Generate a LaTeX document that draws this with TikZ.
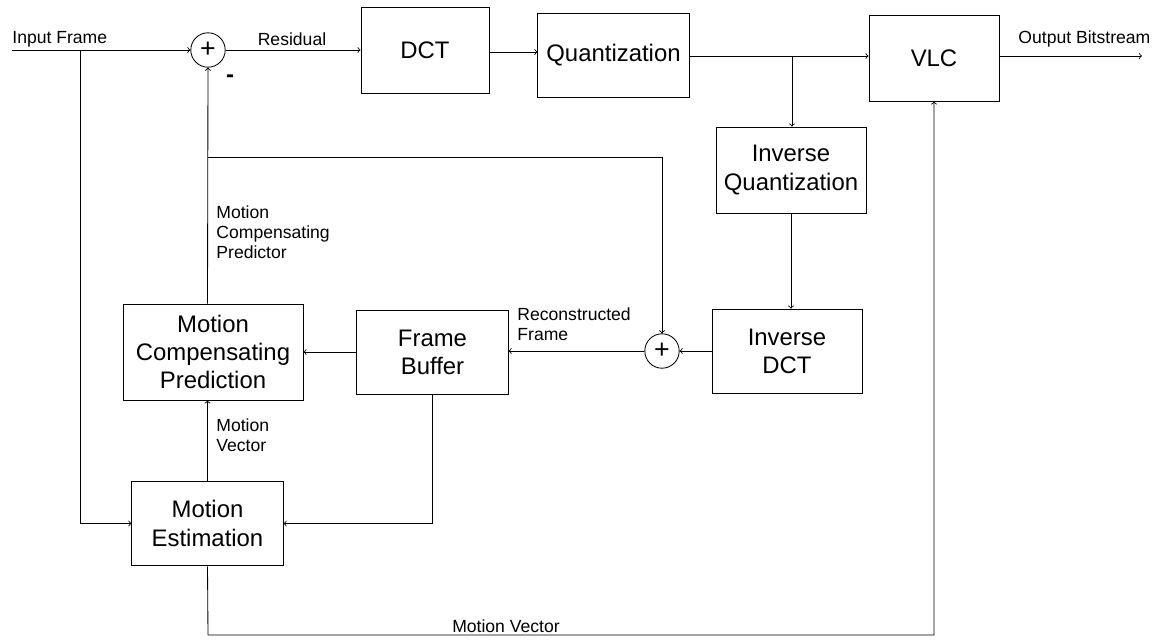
\documentclass[tikz,border=0pt]{standalone}
\usepackage{fontspec}
\setmainfont{Liberation Sans}
\begin{document}
\begin{tikzpicture}[x=0.025cm,y=-0.025cm,line width=0.6pt,
    bloc/.style={draw,rectangle,align=center,font=\fontsize{17}{20}\selectfont,inner sep=0pt},
    somme/.style={draw,circle,minimum size=0.86cm,inner sep=0pt,font=\fontsize{19}{20}\selectfont},
    lbl/.style={font=\fontsize{12.5}{14.5}\selectfont,inner sep=0pt,align=left},
    fl/.style={->}]
    \useasboundingbox (0,0) rectangle (1165,639);

    % Les blocs du haut
    \node[somme] (s1) at (208,50) {+};
    \node[bloc,minimum width=3.2cm,minimum height=2.15cm] (dct) at (425,50) {DCT};
    \node[bloc,minimum width=3.78cm,minimum height=2.1cm] (quant) at (613.5,55) {Quantization};
    \node[bloc,minimum width=3.25cm,minimum height=2.15cm] (vlc) at (934,58) {VLC};

    % Boucle de reconstruction
    \node[bloc,minimum width=3.75cm,minimum height=2.15cm] (iq) at (791,170) {Inverse\\Quantization};
    \node[bloc,minimum width=3.75cm,minimum height=2.12cm] (idct) at (787,351.5) {Inverse\\DCT};
    \node[somme] (s2) at (662,351) {+};
    \node[bloc,minimum width=3.78cm,minimum height=2.1cm] (fb) at (432.5,352) {Frame\\Buffer};
    \node[bloc,minimum width=4.5cm,minimum height=2.4cm] (mcp) at (213,352) {Motion\\Compensating\\Prediction};
    \node[bloc,minimum width=3.78cm,minimum height=2.12cm] (me) at (207.5,523.5) {Motion\\Estimation};

    % Points libres
    \coordinate (in) at (12,50);
    \coordinate (b1) at (80,50);
    \coordinate (b2) at (792,56);
    \coordinate (b3) at (208,157);
    \coordinate (out) at (1142,56);
    \coordinate (bas) at (208,635);

    % Chemin principal
    \draw[fl] (in) -- (s1.west);
    \draw[fl] (s1.east) -- (dct.west |- s1.east);
    \draw[fl] (dct.east |- 0,52) -- (quant.west |- 0,52);
    \draw[fl] (quant.east |- b2) -- (vlc.west |- b2);
    \draw[fl] (vlc.east |- out) -- (out);
    \draw[fl] (b2) -- (iq.north -| b2);
    \draw[fl] (iq.south) -- (iq.south |- idct.north);
    \draw[fl] (idct.west |- s2) -- (s2.east);
    \draw[fl] (s2.west) -- (fb.east |- s2);
    \draw[fl] (fb.west) -- (mcp.east |- fb.west);

    % Estimation et prediction
    \draw[fl] (b1) |- (me.west);
    \draw[fl] (fb.south) |- (me.east);
    \draw[fl] (me.north) -- (me.north |- mcp.south);
    \draw[fl] (me.north |- mcp.north) -- (s1.south);
    \draw[fl] (b3) -| (s2.north);
    \draw[fl] (me.south) -- (bas) -| (vlc.south);

    % Les textes
    \node[lbl,anchor=west] (tin) at (12,39) {Input Frame};
    \node[lbl] (tres) at (292,39) {Residual};
    \node[font=\fontsize{17}{20}\selectfont\bfseries,inner sep=0pt] (moins) at (230,79) {-};
    \node[lbl,anchor=west] (tout) at (1018,39) {Output Bitstream};
    \node[lbl,anchor=north west] (tmcp) at (216,205) {Motion\\Compensating\\Predictor};
    \node[lbl,anchor=north west] (trec) at (517,307) {Reconstructed\\Frame};
    \node[lbl,anchor=north west] (tmv) at (216,418) {Motion\\Vector};
    \node[lbl] (tmv2) at (506,626) {Motion Vector};
\end{tikzpicture}
\end{document}
